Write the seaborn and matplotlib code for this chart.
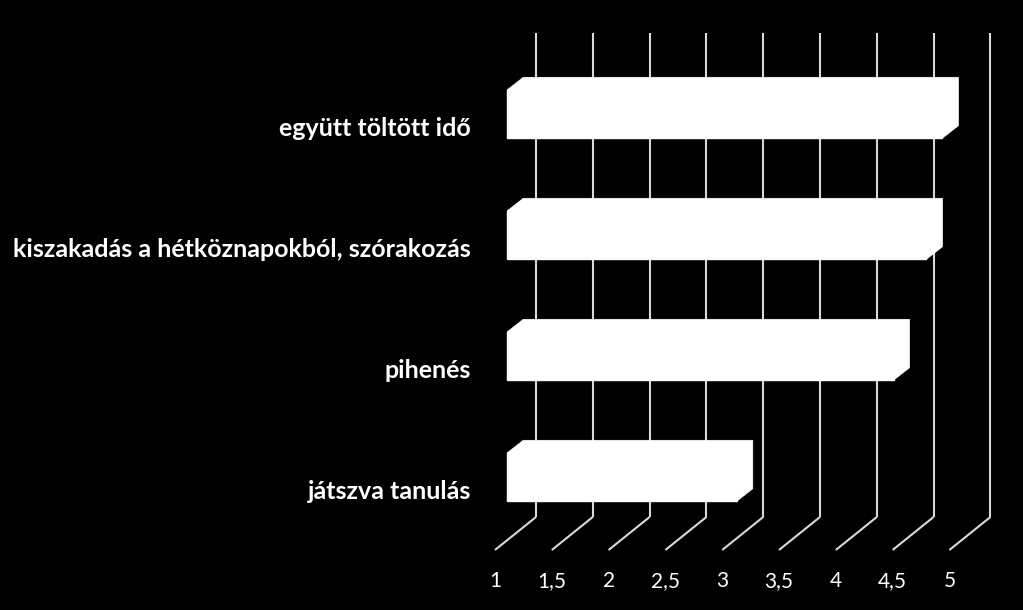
import matplotlib
matplotlib.use('Agg')
import matplotlib.pyplot as plt
import seaborn as sns
import pandas as pd
from matplotlib.patches import Polygon

# data
categories = ['együtt töltött idő',
              'kiszakadás a hétköznapokból, szórakozás',
              'pihenés',
              'játszva tanulás']
values = [4.83, 4.69, 4.40, 3.02]
ticks = [1, 1.5, 2, 2.5, 3, 3.5, 4, 4.5, 5]
tick_labels = ['1', '1,5', '2', '2,5', '3', '3,5', '4', '4,5', '5']

sns.set_theme(style='dark')
plt.rcParams['font.family'] = ['Lato', 'DejaVu Sans']

# pixel scale of the front plane
PX_X = 113.6   # px per value unit
PX_Y = 121.0   # px per category
W, H = 1023, 610
XMIN = 1 - 495 / PX_X
XMAX = XMIN + W / PX_X
YTOP = -0.5 - 66 / PX_Y
YBOT = YTOP + H / PX_Y

# depth vectors (data units)
DX, DY = 41 / PX_X, -33 / PX_Y          # full floor depth
FX, FY = 12.3 / PX_X, -12.5 / PX_Y      # bar front face shift
BX, BY = 16 / PX_X, -12.5 / PX_Y        # bar depth

fig = plt.figure(figsize=(W / 100, H / 100), dpi=100, facecolor='black')
ax = fig.add_axes([0, 0, 1, 1])

df = pd.DataFrame({'cat': categories, 'val': values})
sns.barplot(data=df, x='val', y='cat', color='white', saturation=1,
            width=0.4, ax=ax, zorder=3)

ax.set_xlim(XMIN, XMAX)
ax.set_ylim(YBOT, YTOP)
ax.axis('off')

# back wall and floor lines
grid_kw = dict(color='#d9d9d9', lw=1.5, zorder=1, solid_capstyle='butt')
for t, lab in zip(ticks, tick_labels):
    ax.plot([t + DX, t + DX], [3.5 + DY, -0.5 + DY], **grid_kw)
    ax.plot([t, t + DX], [3.5, 3.5 + DY], **grid_kw)
    ax.text(t, 3.5 + 37 / PX_Y, lab, color='white', fontsize=15,
            ha='center', va='baseline')

# make the bars start at 1 and give them depth
for p, v in zip(ax.patches, values):
    p.set_x(1 + FX)
    p.set_width(v - 1)
    p.set_y(p.get_y() + FY)
    p.set_edgecolor('white')
    x0, x1 = 1 + FX, v + FX
    y0 = p.get_y()
    y1 = y0 + p.get_height()
    pts = [(x0, y1), (x0, y0), (x0 + BX, y0 + BY), (x1 + BX, y0 + BY),
           (x1 + BX, y1 + BY), (x1, y1)]
    ax.add_patch(Polygon(pts, closed=True, facecolor='white',
                         edgecolor='white', lw=0.5, zorder=4))

for i, c in enumerate(categories):
    ax.text(1 - 24 / PX_X, i + 2 / PX_Y, c, color='white', fontsize=18,
            fontweight='bold', ha='right', va='center')

fig.savefig('out.png', dpi=100, facecolor='black')
